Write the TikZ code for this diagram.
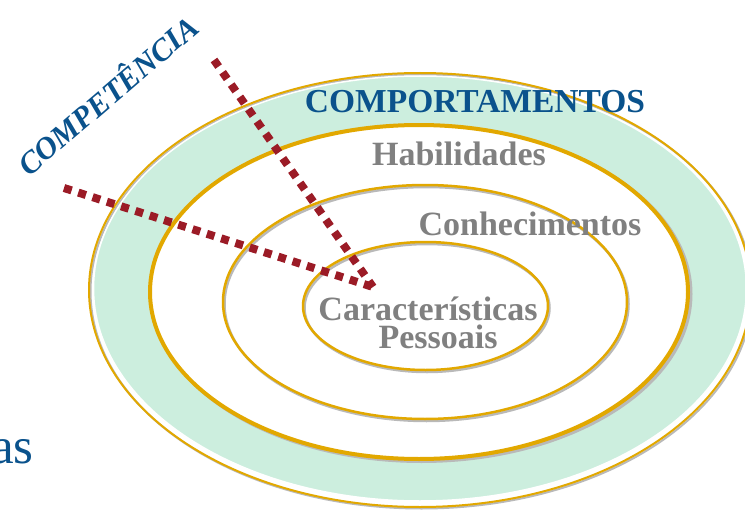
\documentclass[tikz,border=0pt]{standalone}
\usepackage{fontspec}
\setmainfont{Liberation Serif}
\definecolor{cblue}{RGB}{10,82,140}
\definecolor{cgrey}{RGB}{128,128,128}
\definecolor{cgold}{RGB}{226,168,0}
\definecolor{cgreen}{RGB}{204,238,222}
\definecolor{cred}{RGB}{155,27,38}
\definecolor{cshadow}{RGB}{185,185,185}
\tikzset{
  ring/.style={draw=cgold},
  ringshadow/.style={draw=cshadow},
  dotline/.style={draw=cred, line width=8pt, dash pattern=on 8pt off 7pt},
  greytext/.style={text=cgrey, font=\bfseries\fontsize{34pt}{28pt}\selectfont, inner sep=0pt, anchor=base, align=center},
}
\begin{document}
\begin{tikzpicture}[x=1pt,y=-1pt]
\useasboundingbox (0,0) rectangle (745,511);
\clip (0,0) rectangle (745,511);
\fill[white] (0,0) rectangle (745,511);
% outer ring
\draw[ringshadow, line width=2pt] (421.5,291.5) ellipse [x radius=331pt, y radius=217pt];
\draw[ring, line width=2pt] (420,290) ellipse [x radius=331pt, y radius=217pt];
\draw[fill=cgreen, draw=white, line width=1.5pt] (420,288.5) ellipse [x radius=326.5pt, y radius=212.5pt];
% habilidades
\draw[ringshadow, line width=4pt] (421.5,294) ellipse [x radius=269pt, y radius=167pt];
\draw[ring, fill=white, line width=4pt] (419,292) ellipse [x radius=269pt, y radius=167pt];
% conhecimentos
\draw[ringshadow, line width=2.5pt] (426.5,304) ellipse [x radius=202pt, y radius=117pt];
\draw[ring, line width=2.5pt] (425,302) ellipse [x radius=202pt, y radius=117pt];
% caracteristicas
\draw[ringshadow, line width=2.5pt] (427,308) ellipse [x radius=122.5pt, y radius=64pt];
\draw[ring, line width=2.5pt] (425.5,306) ellipse [x radius=122.5pt, y radius=64pt];
% dotted lines
\coordinate (c) at (373,287);
\coordinate (d1) at (214,60);
\coordinate (d2) at (64,188);
\draw[dotline] (d1) -- (c);
\draw[dotline] (d2) -- (c);
% texts
\node[text=cblue, font=\bfseries\fontsize{33.5pt}{33.5pt}\selectfont, inner sep=0pt, anchor=base] (comp) at (475,113) {COMPORTAMENTOS};
\node[greytext] (hab) at (459,165) {Habilidades};
\node[greytext] (con) at (530,235) {Conhecimentos};
\node[greytext] (car) at (428,320) {Características};
\node[greytext] (pes) at (438,348) {Pessoais};
\node[text=cblue, font=\bfseries\itshape\fontsize{31pt}{31pt}\selectfont, inner sep=0pt, anchor=base, rotate=40.5] (cpt) at (115,104) {COMPETÊNCIA};
\node[text=cblue, font=\fontsize{51pt}{51pt}\selectfont, inner sep=0pt, anchor=base east] (as) at (34,463) {as};
\end{tikzpicture}
\end{document}
